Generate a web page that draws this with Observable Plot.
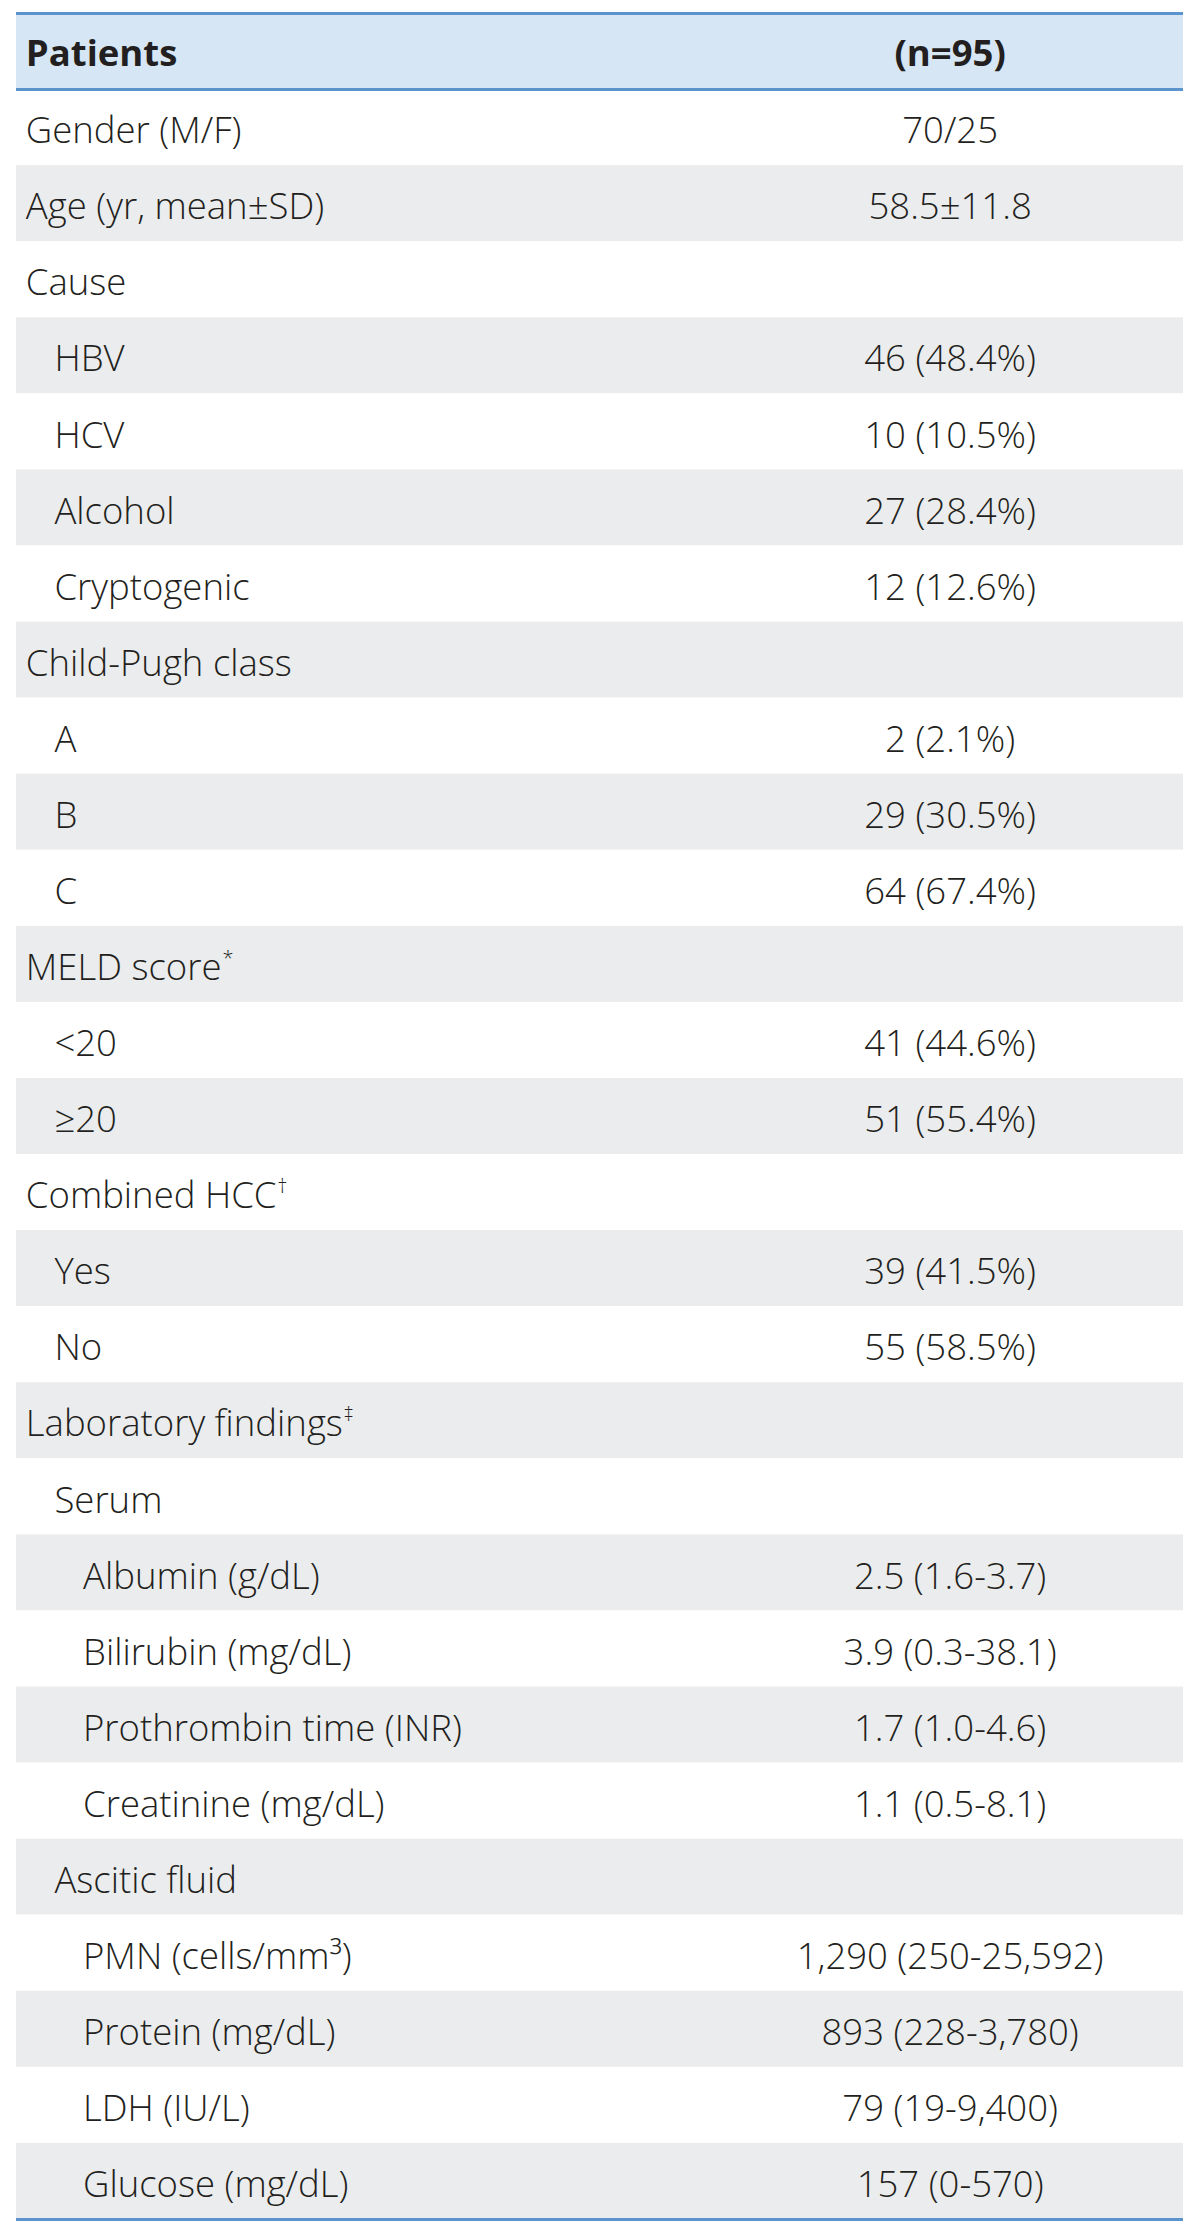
<!DOCTYPE html>
<html>
<head>
<meta charset="utf-8">
<script src="https://cdn.jsdelivr.net/npm/d3@7"></script>
<script src="https://cdn.jsdelivr.net/npm/@observablehq/plot@0.6"></script>
<style>
  html, body { margin: 0; padding: 0; background: #ffffff; }
  #chart svg { display: block; }
</style>
</head>
<body>
<div id="chart"></div>
<script>
const headerLabel = "Patients";
const headerValue = "(n=95)";

const labels = [
  "Gender (M/F)",
  "Age (yr, mean±SD)",
  "Cause",
  "HBV",
  "HCV",
  "Alcohol",
  "Cryptogenic",
  "Child-Pugh class",
  "A",
  "B",
  "C",
  "MELD score*",
  "<20",
  "≥20",
  "Combined HCC†",
  "Yes",
  "No",
  "Laboratory findings‡",
  "Serum",
  "Albumin (g/dL)",
  "Bilirubin (mg/dL)",
  "Prothrombin time (INR)",
  "Creatinine (mg/dL)",
  "Ascitic fluid",
  "PMN (cells/mm³)",
  "Protein (mg/dL)",
  "LDH (IU/L)",
  "Glucose (mg/dL)"
];

const values = [
  "70/25",
  "58.5±11.8",
  "",
  "46 (48.4%)",
  "10 (10.5%)",
  "27 (28.4%)",
  "12 (12.6%)",
  "",
  "2 (2.1%)",
  "29 (30.5%)",
  "64 (67.4%)",
  "",
  "41 (44.6%)",
  "51 (55.4%)",
  "",
  "39 (41.5%)",
  "55 (58.5%)",
  "",
  "",
  "2.5 (1.6-3.7)",
  "3.9 (0.3-38.1)",
  "1.7 (1.0-4.6)",
  "1.1 (0.5-8.1)",
  "",
  "1,290 (250-25,592)",
  "893 (228-3,780)",
  "79 (19-9,400)",
  "157 (0-570)"
];

const levels = [0,0,0,1,1,1,1,0,1,1,1,0,1,1,0,1,1,0,1,2,2,2,2,1,2,2,2,2];

// ---- Build table rows ----
const rows = labels.map((label, k) => ({row: k + 1, label, value: values[k], level: levels[k]}));
const header = [{row: 0, label: headerLabel, value: headerValue}];
const nRows = rows.length + 1;

// layout (in x units: 0..100 across the table width)
const indent = [0.8, 3.25, 5.7];
const valueX = 80.0;

const ink = "#231f20";
const font = "'Open Sans', 'Noto Sans', sans-serif";

const chart = Plot.plot({
  width: 1200,
  height: 2232,
  margin: 0,
  x: {domain: [0, 100], range: [16, 1183], axis: null},
  y: {domain: [0, nRows], range: [13, 2219], axis: null},
  color: {type: "identity"},
  style: {fontFamily: font, background: "#ffffff"},
  marks: [
    // header band
    Plot.rect(header, {x1: 0, x2: 100, y1: "row", y2: d => d.row + 1, fill: "#d6e6f5"}),
    // striped body rows
    Plot.rect(rows, {x1: 0, x2: 100, y1: "row", y2: d => d.row + 1,
      fill: d => d.row % 2 === 0 ? "#ebeced" : "#ffffff"}),
    // blue rules
    Plot.ruleY([0, 1, nRows], {x1: 0, x2: 100, stroke: "#5b93cd", strokeWidth: 3}),
    // header text
    Plot.text(header, {x: indent[0], y: d => d.row + 0.5, text: "label", textAnchor: "start",
      fontSize: 36.5, fontWeight: 700, fill: ink, dy: 3}),
    Plot.text(header, {x: valueX, y: d => d.row + 0.5, text: "value", textAnchor: "middle",
      fontSize: 36.5, fontWeight: 700, fill: ink, dy: 3}),
    // body labels
    Plot.text(rows, {x: d => indent[d.level], y: d => d.row + 0.5, text: "label", textAnchor: "start",
      fontSize: 36.5, fontWeight: 300, fill: ink, dy: 4}),
    // body values
    Plot.text(rows.filter(d => d.value), {x: valueX, y: d => d.row + 0.5, text: "value", textAnchor: "middle",
      fontSize: 36.5, fontWeight: 300, fill: ink, dy: 4})
  ]
});

// superscript footnote markers
d3.select(chart).selectAll("text").each(function () {
  const t = this.textContent;
  const m = t.match(/^(.*?)([*†‡])$/);
  if (m) {
    this.textContent = m[1];
    d3.select(this).append("tspan")
      .attr("font-size", 20)
      .attr("dy", -15)
      .attr("dx", 1)
      .text(m[2]);
  }
});

document.getElementById("chart").appendChild(chart);
</script>
</body>
</html>
